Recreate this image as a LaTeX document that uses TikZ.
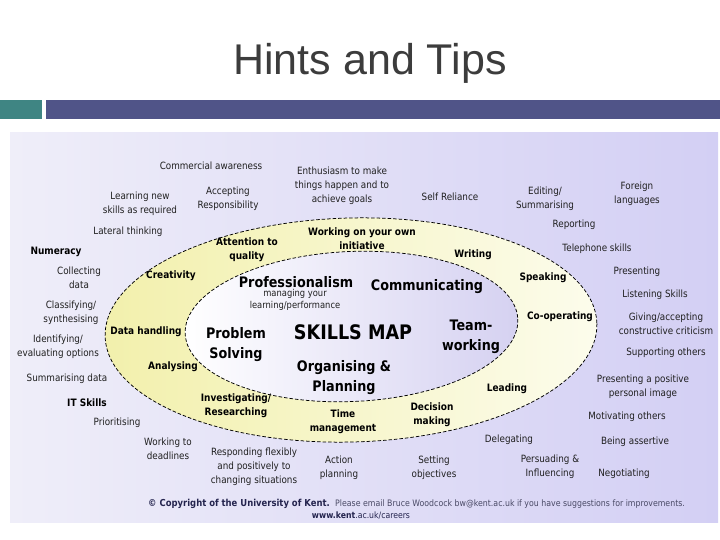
\documentclass[tikz,border=0pt]{standalone}
\usepackage{fontspec}
\setmainfont{DejaVu Sans}[FakeStretch=0.88]
\newfontfamily\titlefont{Liberation Sans}
\definecolor{tealbar}{HTML}{3F8583}
\definecolor{purplebar}{HTML}{505488}
\definecolor{titlegray}{HTML}{3C3C3C}
\definecolor{bgL}{HTML}{EFEEF9}
\definecolor{bgR}{HTML}{D3CFF4}
\definecolor{ringL}{HTML}{F2F0AC}
\definecolor{ringR}{HTML}{FCFCEC}
\definecolor{inL}{HTML}{FFFFFF}
\definecolor{inR}{HTML}{D5D1F1}
\definecolor{txt}{HTML}{202020}
\definecolor{navy}{HTML}{24244E}
\definecolor{footgray}{HTML}{4A4A66}
\tikzset{
  lbl/.style={font=\fontsize{10}{14}\selectfont, text=txt, align=center, inner sep=0pt},
  lblb/.style={font=\bfseries\fontsize{10.2}{14}\selectfont, text=black, align=center, inner sep=0pt},
  rb/.style={font=\bfseries\fontsize{10.2}{14}\selectfont, text=black, align=center, inner sep=0pt},
  big/.style={font=\bfseries\fontsize{14.5}{20}\selectfont, text=black, align=center, inner sep=0pt},
  ringline/.style={draw=black, line width=0.75pt, dash pattern=on 3.5pt off 2pt}
}
\begin{document}
\begin{tikzpicture}[x=1pt,y=-1pt]
\useasboundingbox (0,0) rectangle (720,540);
% title
\node[font=\titlefont\fontsize{43}{43}\selectfont, text=titlegray, anchor=base, inner sep=0pt] (title) at (370,75) {Hints and Tips};
% header bars
\fill[tealbar] (0,100) rectangle (42,119);
\fill[purplebar] (46,100) rectangle (720,119);
% panel
\shade[left color=bgL, right color=bgR] (10,133) rectangle (718,522);
% outer ellipse
\path[ringline, left color=ringL, right color=ringR, rotate around={1.5:(351,330)}] (351,330) ellipse [x radius=246, y radius=112];
% inner ellipse
\path[ringline, left color=inL, right color=inR, rotate around={2.5:(351.5,326.5)}] (351.5,326.5) ellipse [x radius=166.5, y radius=75];

% outer labels
\node[lbl] (n1) at (211,166) {Commercial awareness};
\node[lbl] (n2) at (140,204) {Learning new\\skills as required};
\node[lbl] (n3) at (228,199) {Accepting\\Responsibility};
\node[lbl] (n4) at (342,186) {Enthusiasm to make\\things happen and to\\achieve goals};
\node[lbl] (n5) at (450,197) {Self Reliance};
\node[lbl] (n6) at (545,199) {Editing/\\Summarising};
\node[lbl] (n7) at (637,194) {Foreign\\languages};
\node[lbl] (n8) at (128,232) {Lateral thinking};
\node[lbl] (n9) at (574,225) {Reporting};
\node[lbl] (n10) at (597,249) {Telephone skills};
\node[lblb] (n11) at (56,252) {Numeracy};
\node[lbl] (n12) at (79,278) {Collecting\\data};
\node[lbl] (n13) at (637,272) {Presenting};
\node[lbl] (n14) at (655,295) {Listening Skills};
\node[lbl] (n15) at (71,313) {Classifying/\\synthesising};
\node[lbl] (n16) at (666,324) {Giving/accepting\\constructive criticism};
\node[lbl] (n17) at (58,347) {Identifying/\\evaluating options};
\node[lbl] (n18) at (666,353) {Supporting others};
\node[lbl] (n19) at (67,379) {Summarising data};
\node[lbl] (n20) at (643,387) {Presenting a positive\\personal image};
\node[lblb] (n21) at (87,403) {IT Skills};
\node[lbl] (n22) at (117,423) {Prioritising};
\node[lbl] (n23) at (627,417) {Motivating others};
\node[lbl] (n24) at (168,449) {Working to\\deadlines};
\node[lbl] (n25) at (254,467) {Responding flexibly\\and positively to\\changing situations};
\node[lbl] (n26) at (339,468) {Action\\planning};
\node[lbl] (n27) at (434,468) {Setting\\objectives};
\node[lbl] (n28) at (509,440) {Delegating};
\node[lbl] (n29) at (635,442) {Being assertive};
\node[lbl] (n30) at (550,467) {Persuading \&\\Influencing};
\node[lbl] (n31) at (624,474) {Negotiating};

% ring labels
\node[rb] (r1) at (247,250) {Attention to\\quality};
\node[rb] (r2) at (362,239) {Working on your own\\initiative};
\node[rb] (r3) at (473,255) {Writing};
\node[rb] (r4) at (171,276) {Creativity};
\node[rb] (r5) at (543,278) {Speaking};
\node[rb] (r6) at (146,332) {Data handling};
\node[rb] (r7) at (560,317) {Co-operating};
\node[rb] (r8) at (173,367) {Analysing};
\node[rb] (r9) at (507,389) {Leading};
\node[rb] (r10) at (236,406) {Investigating/\\Researching};
\node[rb] (r11) at (343,422) {Time\\management};
\node[rb] (r12) at (432,415) {Decision\\making};

% inner labels
\node[big] (i1) at (296,282) {Professionalism};
\node[lbl, font=\fontsize{9.5}{12}\selectfont] (i2) at (295,300) {managing your\\learning/performance};
\node[big] (i3) at (427,287) {Communicating};
\node[big, font=\bfseries\fontsize{20}{24}\selectfont] (i4) at (353,332) {SKILLS MAP};
\node[big] (i5) at (236,345) {Problem\\Solving};
\node[big] (i6) at (471,337) {Team-\\working};
\node[big] (i7) at (344,378) {Organising \&\\Planning};

% footer
\node[font=\bfseries\fontsize{9.6}{10}\selectfont, text=navy, inner sep=0pt, anchor=base west] (f1) at (148,506) {© Copyright of the University of Kent.};
\node[font=\fontsize{8.9}{10}\selectfont, text=footgray, inner sep=0pt, anchor=base west] (f2) at (335,506) {Please email Bruce Woodcock bw@kent.ac.uk if you have suggestions for improvements.};
\node[font=\fontsize{8.8}{10}\selectfont, text=navy, inner sep=0pt, anchor=base] (f3) at (361,518) {\textbf{www.kent}.ac.uk/careers};
\end{tikzpicture}
\end{document}
